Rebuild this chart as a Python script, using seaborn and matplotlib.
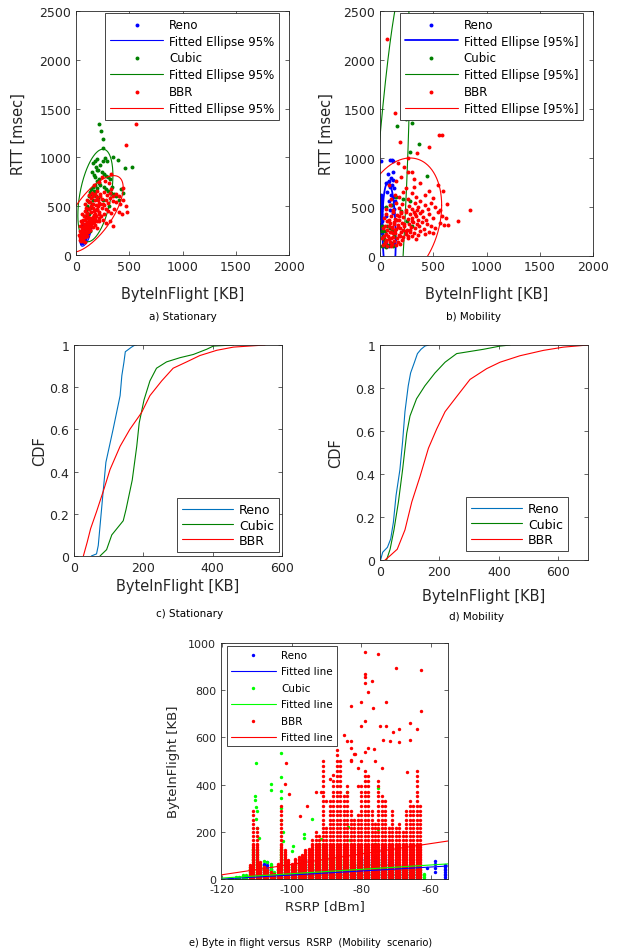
import numpy as np
import matplotlib
matplotlib.use("Agg")
import matplotlib.pyplot as plt
import seaborn as sns

# ---------------- data: panel a (Stationary scatter, KB vs msec) ----------------
a_ren_x = [45, 50, 55, 60, 65, 70, 75, 80, 85, 90, 95, 100, 105, 110, 115, 120, 125, 130,
           60, 70, 80, 90, 100, 110, 120, 55, 65]
a_ren_y = [150, 130, 170, 120, 200, 140, 230, 160, 180, 210, 240, 190, 220, 260, 230, 270, 250, 280,
           300, 320, 270, 300, 320, 340, 300, 250, 220]

a_cub_x = [216, 235, 250, 257, 350, 398, 460, 523,
           200, 180, 160, 190, 230, 250, 270, 290, 210, 150, 170, 240, 260, 280, 300, 320,
           200, 220, 180, 160, 140, 130, 120, 110, 100, 90, 80,
           140, 170, 200, 230, 260, 280, 300, 330, 360, 380, 400,
           250, 210, 190, 160, 150, 130, 120, 110,
           120, 130, 310, 340, 420, 440, 180, 200, 220]
a_cub_y = [1343, 1270, 1190, 1097, 1000, 977, 890, 900,
           980, 960, 940, 900, 920, 960, 990, 960, 870, 850, 820, 850, 830, 810, 800, 780,
           760, 740, 720, 700, 680, 650, 600, 550, 500, 450, 400,
           620, 660, 690, 720, 700, 680, 660, 640, 620, 600, 560,
           560, 580, 600, 560, 520, 480, 420, 380,
           300, 250, 500, 700, 680, 640, 800, 870, 780]

a_bbr_x = [40, 50, 60, 70, 55, 45, 65, 80, 90, 100,
           50, 60, 70, 80, 90, 100, 110, 120, 130, 140, 75, 55,
           60, 70, 80, 90, 100, 110, 120, 130, 140, 150, 160, 170, 180, 200, 220, 250, 280, 320, 350,
           60, 80, 100, 120, 140, 160, 180, 200, 220, 240, 260, 280, 300, 330, 360, 400, 430, 480, 470,
           80, 100, 120, 140, 160, 180, 200, 220, 240, 260, 280, 300, 320, 350, 380, 410, 440, 400,
           120, 150, 180, 200, 230, 260, 290, 320, 350, 380, 330,
           170, 220, 270, 310, 330, 240,
           560, 470, 440,
           30, 35, 40, 45, 35, 50, 60, 70, 80,
           70, 90, 110, 130, 150, 170, 190, 210, 230,
           85, 105, 125, 145, 165, 185, 205, 225,
           95, 115, 135, 155, 175, 195, 215,
           75, 95, 115, 135, 155, 175, 195, 215, 235, 255]
a_bbr_y = [150, 140, 160, 170, 190, 200, 210, 180, 200, 190,
           240, 260, 230, 280, 250, 270, 240, 290, 260, 300, 300, 290,
           330, 360, 320, 380, 340, 390, 350, 380, 330, 360, 390, 340, 370, 350, 380, 360, 330, 350, 300,
           420, 450, 430, 470, 440, 480, 420, 460, 440, 480, 420, 470, 450, 430, 470, 440, 420, 440, 500,
           520, 560, 540, 580, 520, 560, 590, 530, 570, 510, 560, 530, 580, 550, 540, 520, 560, 600,
           610, 640, 620, 660, 630, 650, 610, 640, 600, 620, 680,
           720, 750, 760, 740, 830, 800,
           1340, 1130, 690,
           200, 250, 300, 350, 180, 170, 150, 140, 130,
           250, 290, 320, 300, 330, 410, 400, 500, 520,
           360, 420, 470, 500, 450, 510, 560, 600,
           230, 300, 260, 290, 310, 280, 350,
           400, 480, 380, 540, 600, 460, 470, 420, 400, 520]

# fitted 95% ellipses: centre, x/y half-extent, correlation (Reno, Cubic, BBR)
a_ell_cx = [90, 182, 160]
a_ell_cy = [200, 610, 420]
a_ell_sx = [50, 164.5, 283.1]
a_ell_sy = [110, 474.2, 393.3]
a_ell_r = [0.6, 0.43, 0.687]

# ---------------- data: panel b (Mobility scatter) ----------------
b_ren_x = [6, 94, 108, 122, 72, 125, 119, 100, 85, 60, 110, 130, 90, 70, 100, 120, 140, 80, 110, 130, 90, 120, 60,
           5, 10, 8, 12, 6, 15, 8, 10, 5, 12, 8, 15, 6, 10, 12, 18, 22,
           30, 50, 60, 80, 100, 120, 40]
b_ren_y = [966, 975, 978, 965, 830, 854, 770, 790, 760, 740, 720, 690, 700, 650, 620, 600, 560, 560, 520, 480, 470, 430, 400,
           620, 600, 580, 550, 520, 500, 480, 450, 420, 400, 380, 350, 320, 300, 270, 250, 230,
           200, 150, 120, 100, 110, 130, 100]

b_cub_x = [250, 245, 303, 163, 369, 438, 282,
           20, 40, 60, 80, 100, 120, 30, 50, 70, 90, 110, 130, 60, 100, 150, 220, 280, 200, 250, 300, 20, 15,
           45, 35, 55]
b_cub_y = [1466, 1400, 1357, 1323, 1135, 810, 1058,
           100, 120, 90, 110, 130, 100, 200, 250, 300, 280, 250, 200, 500, 520, 600, 580, 560, 450, 350, 300, 300, 250,
           150, 170, 110]

b_bbr_x = [30, 50, 70, 90, 110, 130, 150, 170, 190, 60, 100,
           20, 40, 60, 80, 100, 120, 140, 160, 180, 200, 220, 240, 260, 280, 300, 320, 340, 360, 380, 420, 460, 500,
           30, 50, 70, 90, 110, 130, 150, 170, 190, 210, 230, 250, 270, 290, 310, 330, 350, 370, 390, 410, 440, 480, 520, 560, 600, 641,
           40, 60, 80, 100, 120, 140, 160, 180, 200, 220, 240, 260, 280, 300, 320, 340, 360, 380, 400, 430, 460, 500, 540, 580, 620, 735,
           60, 90, 120, 150, 180, 210, 240, 270, 300, 330, 360, 390, 420, 450, 480, 520, 560, 626, 845,
           100, 140, 180, 220, 260, 300, 340, 380, 420, 460, 500, 548, 595, 240, 320,
           80, 150, 200, 260, 297, 320, 380, 172, 266, 230,
           69, 141, 557, 579, 188, 463, 344,
           55, 75, 95, 115, 135, 155, 175, 195, 215,
           65, 85, 105, 125, 145, 165, 185, 205, 225, 245, 265, 285, 305, 325, 345]
b_bbr_y = [110, 130, 100, 140, 120, 150, 110, 140, 120, 150, 100,
           180, 200, 220, 170, 240, 190, 230, 180, 210, 240, 190, 220, 180, 240, 200, 230, 170, 210, 250, 220, 240, 230,
           280, 300, 260, 330, 290, 340, 270, 310, 280, 330, 300, 260, 320, 290, 340, 280, 320, 300, 340, 270, 320, 300, 280, 330, 310, 309,
           380, 420, 360, 400, 440, 370, 410, 360, 430, 390, 440, 370, 420, 380, 440, 400, 360, 430, 390, 360, 420, 380, 440, 400, 380, 350,
           480, 520, 470, 540, 490, 530, 470, 510, 480, 540, 500, 460, 520, 480, 540, 500, 470, 530, 469,
           580, 620, 600, 650, 580, 640, 600, 560, 620, 660, 590, 717, 656, 690, 700,
           720, 760, 800, 850, 854, 780, 740, 949, 1000, 900,
           2213, 1459, 1234, 1227, 1160, 1109, 1051,
           160, 200, 240, 280, 320, 360, 400, 440, 260,
           350, 300, 180, 230, 260, 290, 200, 160, 320, 250, 200, 260, 350, 420, 470]

b_ell_cx = [85, 55, 183]
b_ell_cy = [230, -200, 352]
b_ell_sx = [62.7, 225, 396]
b_ell_sy = [520, 3000, 645]
b_ell_r = [-0.143, 0.74, 0.25]

# ---------------- data: panel c (Stationary CDF) ----------------
c_ren_x = [50, 65, 70, 83, 92, 113, 133, 138, 144, 148, 166, 176, 180]
c_ren_y = [0, 0.01, 0.05, 0.286, 0.444, 0.602, 0.76, 0.855, 0.918, 0.968, 0.99, 1.0, 1.0]
c_cub_x = [75, 94, 109, 142, 150, 168, 181, 188, 202, 219, 238, 267, 306, 344, 383, 402, 460]
c_cub_y = [0, 0.03, 0.1, 0.167, 0.22, 0.36, 0.52, 0.63, 0.74, 0.83, 0.89, 0.92, 0.94, 0.955, 0.98, 0.995, 1.0]
c_bbr_x = [27, 38, 48, 65, 87, 104, 133, 161, 195, 219, 253, 286, 325, 363, 412, 460, 551]
c_bbr_y = [0, 0.065, 0.13, 0.21, 0.32, 0.41, 0.52, 0.6, 0.68, 0.76, 0.83, 0.89, 0.92, 0.95, 0.975, 0.99, 1.0]

# ---------------- data: panel d (Mobility CDF) ----------------
d_ren_x = [2, 9, 25, 36, 45, 54, 67, 76, 84, 95, 103, 116, 126, 138, 151, 163]
d_ren_y = [0, 0.036, 0.059, 0.098, 0.175, 0.3, 0.42, 0.55, 0.69, 0.81, 0.87, 0.92, 0.96, 0.98, 0.995, 1.0]
d_cub_x = [22, 34, 47, 62, 76, 90, 101, 123, 151, 185, 219, 258, 303, 348, 404, 438]
d_cub_y = [0, 0.05, 0.14, 0.27, 0.42, 0.59, 0.67, 0.75, 0.81, 0.87, 0.92, 0.96, 0.97, 0.98, 0.995, 1.0]
d_bbr_x = [17, 34, 58, 84, 107, 135, 163, 191, 219, 258, 303, 359, 404, 471, 550, 617, 700]
d_bbr_y = [0, 0.02, 0.05, 0.14, 0.27, 0.39, 0.52, 0.61, 0.69, 0.76, 0.84, 0.89, 0.92, 0.95, 0.975, 0.99, 1.0]

# ---------------- data: panel e (ByteInFlight vs RSRP) ----------------
# readings of the stacked dot columns: dots at these levels up to each column's top
stack_levels = [2, 9, 16, 23, 30, 37, 44, 51, 58, 65, 72, 79, 86, 93, 100, 107, 114, 121, 128, 135,
                142, 150, 166, 182, 198, 216, 234, 252, 270, 290, 310, 330, 350, 370, 392, 414,
                436, 458, 480, 502, 525, 548]

ren_col_rsrp = list(range(-118, -54))
ren_col_top = [2, 2, 2, 2, 2, 9,
               16, 23, 16, 23, 65, 58, 51, 16, 23, 30, 23, 23, 30,
               30, 37, 72, 86, 51, 44, 37, 44, 37, 44,
               44, 51, 44, 51, 44, 51, 44, 51, 58, 86,
               93, 100, 79, 93, 72, 128, 100, 72, 79, 65,
               58, 51, 58, 51, 58, 44, 0, 0, 0, 0,
               0, 0, 0, 58]
ren_ext_x = [-61, -58.7, -58.7, -58.7, -58.7, -73, -107, -96.5]
ren_ext_y = [45, 78, 62, 45, 30, 135, 70, 75]

cub_col_rsrp = list(range(-118, -61))
cub_col_top = [2, 2, 9, 9, 16, 16, 51, 128, 121, 58, 51, 37, 65, 30, 44, 128, 86, 51, 58, 44,
               65, 72, 79, 58, 65, 72, 86, 142, 107, 86, 79, 100, 86, 79, 72, 79, 65, 72, 65, 79,
               72, 65, 58, 86, 72, 65, 58, 51, 44, 51, 44, 51, 44, 37, 44, 37, 23]
cub_ext_x = [-110.3, -110.5, -110.5, -110.3, -110, -110.3, -110, -109.5, -106, -106, -103, -103, -103,
             -103, -103, -103, -102.5, -102.5, -96.5, -96.5, -94, -92, -91.5, -84, -83.7, -83.3, -75,
             -75, -76, -88, -80, -70, -66, -99.5, -100, -108, -107]
cub_ext_y = [490, 350, 335, 305, 290, 255, 215, 175, 402, 378, 532, 432, 375, 345, 300, 250, 200, 160,
             192, 175, 254, 150, 170, 370, 220, 165, 385, 212, 150, 135, 120, 110, 90, 140, 120, 75, 70]

bbr_col_rsrp = list(range(-112, -62))
bbr_col_top = [58, 300, 216, 72, 51, 37, 30, 23, 65, 310, 121, 79, 65, 86, 93, 100, 121, 128, 166, 198,
               182, 502, 230, 330, 420, 548, 502, 350, 400, 300, 260, 280, 392, 458, 436, 300, 250, 414,
               350, 330, 230, 290, 216, 250, 198, 290, 330, 310, 458, 310]
bbr_ext_x = [-102, -101.7, -100.7, -97.6, -95.6, -93, -91.6, -89, -88, -83, -83, -83, -82.8, -82,
             -80.8, -79, -79, -79, -79, -79, -79, -80, -80, -78, -77, -76.7, -78, -76.2, -75, -74.7,
             -73.7, -72.7, -72.7, -71.8, -70.7, -69.9, -69, -69, -66.8, -65.8, -65.8, -63.8, -62.7,
             -62.7, -85, -84, -81.8, -82.8, -76, -74, -90, -81, -80]
bbr_ext_y = [402, 491, 360, 268, 309, 368, 368, 424, 440, 501, 555, 733, 585, 530,
             394, 962, 870, 855, 830, 670, 540, 750, 650, 792, 839, 725, 555, 550, 953, 648,
             590, 750, 650, 585, 622, 894, 635, 580, 452, 663, 588, 636, 886,
             712, 610, 585, 530, 505, 500, 470, 330, 470, 500]

fit_rsrp = [-120, -55]
ren_fit = [0, 55]
cub_fit = [4, 64]
bbr_fit = [18, 161]

# ---------------- style ----------------
sns.set_style("ticks")
plt.rcParams['font.family'] = ['DejaVu Sans']
plt.rcParams.update({
    'axes.edgecolor': '#262626', 'axes.linewidth': 0.6,
    'xtick.color': '#262626', 'ytick.color': '#262626',
    'xtick.direction': 'in', 'ytick.direction': 'in',
    'xtick.top': True, 'ytick.right': True,
    'xtick.major.size': 3, 'ytick.major.size': 3,
    'xtick.major.width': 0.5, 'ytick.major.width': 0.5,
    'xtick.labelsize': 9, 'ytick.labelsize': 9,
    'axes.labelsize': 10.5, 'axes.labelcolor': '#262626',
    'axes.unicode_minus': False,
})

BLUE, DGREEN, RED = '#0000FF', '#008000', '#FF0000'
MBLUE, LIME = '#0072BD', '#00FF00'

W, H = 624, 953
fig = plt.figure(figsize=(W / 100, H / 100), dpi=100)


def rect(l, t, r, b):
    return [l / W, 1 - b / H, (r - l) / W, (b - t) / H]


def ellipse_xy(cx, cy, sx, sy, r):
    t = np.linspace(0, 2 * np.pi, 361)
    x = cx + sx * np.cos(t)
    y = cy + sy * (r * np.cos(t) + np.sqrt(1 - r * r) * np.sin(t))
    return x, y


def scatter(ax, x, y, color, s=8, z=2):
    sns.scatterplot(x=x, y=y, ax=ax, color=color, s=s, linewidth=0, zorder=z, legend=False)
    return ax.collections[-1]


def line(ax, x, y, color, lw=0.8, z=2):
    sns.lineplot(x=x, y=y, ax=ax, color=color, linewidth=lw, sort=False, estimator=None, zorder=z,
                 legend=False)
    return ax.lines[-1]


def legend(ax, handles, labels, loc, anchor, fs, hl, ls):
    leg = ax.legend(handles, labels, loc=loc, bbox_to_anchor=anchor, borderaxespad=0, frameon=True,
                    fancybox=False, edgecolor='#262626', framealpha=1, handlelength=hl,
                    handletextpad=0.5, labelspacing=ls, borderpad=0.4, fontsize=fs)
    leg.get_frame().set_linewidth(0.6)
    for t in leg.get_texts():
        t.set_color('black')
    return leg


def scatter_panel(ax, pts, ell, ell_lw, lab):
    handles = []
    for (x, y), (cx, cy, sx, sy, r), c, lw in zip(pts, ell, [BLUE, DGREEN, RED], ell_lw):
        handles.append(scatter(ax, x, y, c))
        ex, ey = ellipse_xy(cx, cy, sx, sy, r)
        handles.append(line(ax, ex, ey, c, lw=lw))
    ax.set_xlim(0, 2000)
    ax.set_ylim(0, 2500)
    ax.set_xticks([0, 500, 1000, 1500, 2000])
    ax.set_yticks([0, 500, 1000, 1500, 2000, 2500])
    ax.set_xlabel('ByteInFlight [KB]')
    ax.set_ylabel('RTT [msec]')
    labels = ['Reno', lab, 'Cubic', lab, 'BBR', lab]
    return handles, labels


# ---------------- panel a ----------------
ax_a = fig.add_axes(rect(76, 12, 289, 256))
ell_a = list(zip(a_ell_cx, a_ell_cy, a_ell_sx, a_ell_sy, a_ell_r))
h, l = scatter_panel(ax_a, [(a_ren_x, a_ren_y), (a_cub_x, a_cub_y), (a_bbr_x, a_bbr_y)],
                     ell_a, [0.8, 0.8, 0.8], 'Fitted Ellipse 95%')
legend(ax_a, h, l, 'upper right', (0.953, 0.992), 8.5, 4.5, 0.33)
ax_a.xaxis.set_label_coords(0.5, -0.125)
ax_a.yaxis.set_label_coords(-0.235, 0.5)

# ---------------- panel b ----------------
ax_b = fig.add_axes(rect(380, 12, 593, 256.5))
ell_b = list(zip(b_ell_cx, b_ell_cy, b_ell_sx, b_ell_sy, b_ell_r))
h, l = scatter_panel(ax_b, [(b_ren_x, b_ren_y), (b_cub_x, b_cub_y), (b_bbr_x, b_bbr_y)],
                     ell_b, [1.3, 0.8, 0.8], 'Fitted Ellipse [95%]')
legend(ax_b, h, l, 'upper right', (0.953, 0.992), 8.5, 4.5, 0.33)
ax_b.xaxis.set_label_coords(0.5, -0.125)
ax_b.yaxis.set_label_coords(-0.215, 0.5)


def cdf_panel(ax, series, xmax, xlab_y, ylab_x, anchor):
    handles = []
    for (x, y), c in zip(series, [MBLUE, DGREEN, RED]):
        handles.append(line(ax, x, y, c, lw=0.8))
    ax.set_xlim(0, xmax)
    ax.set_ylim(0, 1)
    ax.set_xticks([0, 200, 400, 600])
    ax.set_yticks([0, 0.2, 0.4, 0.6, 0.8, 1.0])
    ax.set_yticklabels(['0', '0.2', '0.4', '0.6', '0.8', '1'])
    ax.set_xlabel('ByteInFlight [KB]')
    ax.set_ylabel('CDF')
    ax.xaxis.set_label_coords(0.5, xlab_y)
    ax.yaxis.set_label_coords(ylab_x, 0.5)
    legend(ax, handles, ['Reno', 'Cubic', 'BBR'], 'lower right', anchor, 9, 4.1, 0.18)


ax_c = fig.add_axes(rect(74, 346, 282, 557))
cdf_panel(ax_c, [(c_ren_x, c_ren_y), (c_cub_x, c_cub_y), (c_bbr_x, c_bbr_y)], 600,
          -0.105, -0.13, (0.986, 0.02))

ax_d = fig.add_axes(rect(380, 346, 588, 561))
cdf_panel(ax_d, [(d_ren_x, d_ren_y), (d_cub_x, d_cub_y), (d_bbr_x, d_bbr_y)], 700,
          -0.13, -0.175, (0.904, 0.042))

# ---------------- panel e ----------------
ax_e = fig.add_axes(rect(221, 644, 448, 880))


def stacked(cols_x, cols_top, ext_x, ext_y):
    xs, ys = [], []
    for x, top in zip(cols_x, cols_top):
        for lv in stack_levels:
            if lv <= top:
                xs.append(x)
                ys.append(lv)
    return xs + list(ext_x), ys + list(ext_y)


handles = []
rx, ry = stacked(ren_col_rsrp, ren_col_top, ren_ext_x, ren_ext_y)
handles.append(scatter(ax_e, rx, ry, BLUE, s=6))
handles.append(line(ax_e, fit_rsrp, ren_fit, BLUE, lw=0.8, z=4))
cx_, cy_ = stacked(cub_col_rsrp, cub_col_top, cub_ext_x, cub_ext_y)
handles.append(scatter(ax_e, cx_, cy_, LIME, s=6))
handles.append(line(ax_e, fit_rsrp, cub_fit, LIME, lw=0.8, z=4))
bx, by = stacked(bbr_col_rsrp, bbr_col_top, bbr_ext_x, bbr_ext_y)
handles.append(scatter(ax_e, bx, by, RED, s=6))
handles.append(line(ax_e, fit_rsrp, bbr_fit, RED, lw=0.8, z=4))
ax_e.set_xlim(-120.3, -55)
ax_e.set_ylim(0, 1000)
ax_e.set_xticks([-120, -100, -80, -60])
ax_e.set_yticks([0, 200, 400, 600, 800, 1000])
ax_e.tick_params(labelsize=8)
ax_e.set_xlabel('RSRP [dBm]', fontsize=9.5)
ax_e.set_ylabel('ByteInFlight [KB]', fontsize=9.5)
ax_e.xaxis.set_label_coords(0.46, -0.085)
ax_e.yaxis.set_label_coords(-0.18, 0.5)
legend(ax_e, handles, ['Reno', 'Fitted line', 'Cubic', 'Fitted line', 'BBR', 'Fitted line'],
       'upper left', (0.026, 0.988), 7.5, 4.3, 0.62)

# ---------------- captions ----------------
for txt, x, y, fs in [('a) Stationary', 183, 317, 7.5), ('b) Mobility', 473, 317, 7.5),
                      ('c) Stationary', 190, 614, 7.5), ('d) Mobility', 477, 617, 7.5),
                      ('e) Byte in flight versus  RSRP  (Mobility  scenario)', 311, 943, 7)]:
    fig.text(x / W, 1 - y / H, txt, ha='center', va='center', fontsize=fs, color='black')

fig.savefig('out.png', dpi=100)
